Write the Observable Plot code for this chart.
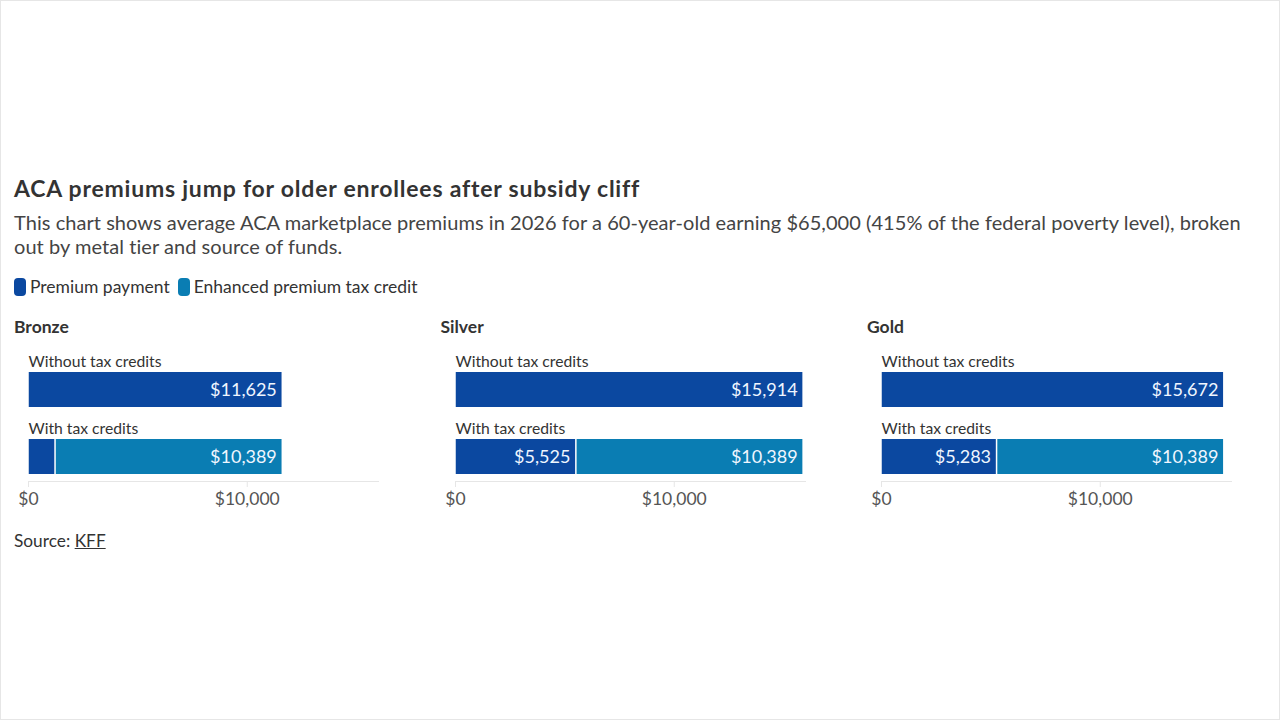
<!DOCTYPE html>
<html>
<head>
<meta charset="utf-8">
<script src="https://cdn.jsdelivr.net/npm/d3@7"></script>
<script src="https://cdn.jsdelivr.net/npm/@observablehq/plot@0.6"></script>
<style>
  html, body { margin: 0; padding: 0; background: #fff; }
  body { width: 1280px; height: 720px; box-sizing: border-box; border: 1px solid #e6e6e6; position: relative; overflow: hidden; font-family: Lato, "Noto Sans", sans-serif; color: #333; }
  #wrap { position: absolute; left: 13px; top: 174px; width: 1255px; }
  h1 { margin: 0; font-size: 23px; letter-spacing: 0.78px; line-height: 26px; font-weight: 700; color: #333; }
  .sub { margin: 9px 0 0 0; font-size: 20px; letter-spacing: 0.05px; line-height: 24px; color: #444; width: 1232px; }
  .legend { margin-top: 19px; display: flex; gap: 8px; font-size: 17.5px; line-height: 20px; color: #333; }
  .legend span.item { display: inline-flex; align-items: center; }
  .legend .sw { display: inline-block; width: 12px; height: 18px; border-radius: 4px; margin-right: 4px; }
  #panels { display: flex; margin-top: 20px; }
  .panel { width: 426.5px; flex: none; }
  .panel h3 { margin: 0 0 3px 0; font-size: 17.5px; line-height: 20px; font-weight: 700; color: #333; }
  .source { margin-top: 16px; font-size: 17.3px; line-height: 20px; color: #333; }
  .source u { text-decoration: underline; }
</style>
</head>
<body>
<div id="wrap">
  <h1>ACA premiums jump for older enrollees after subsidy cliff</h1>
  <div class="sub">This chart shows average ACA marketplace premiums in 2026 for a 60-year-old earning $65,000 (415% of the federal poverty level), broken out by metal tier and source of funds.</div>
  <div class="legend" id="legend"></div>
  <div id="panels"></div>
  <div class="source">Source: <u>KFF</u></div>
</div>
<script>
const tiers = ["Bronze", "Silver", "Gold"];
const rows = ["Without tax credits", "With tax credits"];
const sources = ["Premium payment", "Enhanced premium tax credit"];
const colors = ["#0b48a0", "#0a7db3"];
const withoutCredits = [11625, 15914, 15672];
const premiumWithCredits = [1236, 5525, 5283];
const enhancedCredit = [10389, 10389, 10389];
const xTicks = [0, 10000];
const xMax = 16000;

const fmt = v => "$" + d3.format(",")(v);

// legend
const legend = document.getElementById("legend");
sources.forEach((s, i) => {
  const it = document.createElement("span");
  it.className = "item";
  it.innerHTML = `<span class="sw" style="background:${colors[i]}"></span>${s}`;
  legend.appendChild(it);
});

const panels = document.getElementById("panels");
tiers.forEach((tier, i) => {
  const data = [
    {row: rows[0], source: sources[0], value: withoutCredits[i]},
    {row: rows[1], source: sources[0], value: premiumWithCredits[i]},
    {row: rows[1], source: sources[1], value: enhancedCredit[i]}
  ];
  const div = document.createElement("div");
  div.className = "panel";
  const h = document.createElement("h3");
  h.textContent = tier;
  div.appendChild(h);
  const chart = Plot.plot({
    width: 426,
    height: 175,
    marginLeft: 14,
    marginRight: 62,
    marginTop: 0,
    marginBottom: 34,
    style: {fontFamily: "Lato, 'Noto Sans', sans-serif", background: "transparent", overflow: "visible"},
    x: {domain: [0, xMax], range: [14, 364], label: null},
    y: {domain: rows, range: [32, 134], paddingInner: 0.478, paddingOuter: 0, align: 0, axis: null},
    color: {domain: sources, range: colors},
    marks: [
      Plot.frame({anchor: "bottom", stroke: "#e6e6e6", strokeOpacity: 1}),
      Plot.axisX({ticks: xTicks, tickFormat: fmt, tickSize: 6, tickPadding: 5, fontSize: 17.5, color: "#555", stroke: "#e6e6e6", label: null}),
      Plot.barX(data, Plot.stackX({x: "value", y: "row", fill: "source", insetLeft: 0.75, insetRight: 0.75})),
      Plot.textX(data, Plot.stackX2({
        x: "value", y: "row",
        text: d => d.value > 3000 ? fmt(d.value) : "",
        textAnchor: "end", dx: -6, fill: "#f0f6ff", fontSize: 18
      })),
      Plot.text(rows, {x: 0, y: d => d, text: d => d, textAnchor: "start", dy: -28, fontSize: 15.7, fill: "#333"})
    ]
  });
  div.appendChild(chart);
  panels.appendChild(div);
});
</script>
</body>
</html>
